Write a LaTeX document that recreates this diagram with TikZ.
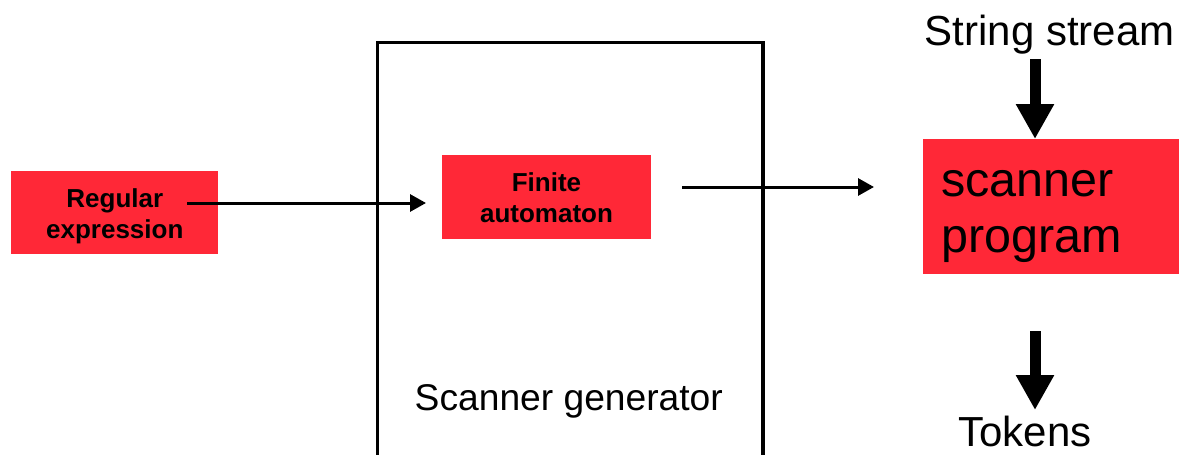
\documentclass[tikz,border=0pt]{standalone}
\usepackage{fontspec}
\setmainfont{Liberation Sans}
\usetikzlibrary{arrows.meta}
\definecolor{boxred}{RGB}{255,40,55}
\tikzset{
  redbox/.style={fill=boxred, draw=none, inner sep=0pt},
  boldtxt/.style={inner sep=0pt, align=center, font=\fontsize{26}{31}\selectfont\bfseries},
  bigtxt/.style={inner sep=0pt, align=left, font=\fontsize{48.5}{56.3}\selectfont},
  lbltxt/.style={inner sep=0pt},
  thinarrow/.style={line width=3pt, -{Triangle[length=16pt,width=17pt]}},
  thickarrow/.style={line width=11pt, -{Triangle[length=35pt,width=36pt]}},
  genbox/.style={draw, line width=3.2pt, fill=none, inner sep=0pt}
}
\begin{document}
\begin{tikzpicture}[x=1pt,y=-1pt]
\useasboundingbox (0,0) rectangle (1179,455);
\clip (0,0) rectangle (1179,455);
% scanner generator box
\node[genbox, minimum width=385.5pt, minimum height=440pt] (gen) at (570.3,262.7) {};
\node[lbltxt, anchor=base, font=\fontsize{37.2}{44}\selectfont] (genlbl) at (568.8,410) {Scanner generator};
% red boxes
\node[redbox, minimum width=207pt, minimum height=83pt] (re) at (114.8,212.7) {};
\node[boldtxt] (retxt) at (114.8,216.5) {Regular\\expression};
\node[redbox, minimum width=209pt, minimum height=83.7pt] (fa) at (546.5,197) {};
\node[boldtxt] (fatxt) at (546.5,197.7) {Finite\\automaton};
\node[redbox, minimum width=256pt, minimum height=134.7pt] (sp) at (1051,206.3) {};
\node[bigtxt, anchor=west] (sptxt) at (941,216.5) {scanner\\program};
% labels
\node[lbltxt, anchor=base west, font=\fontsize{42}{48}\selectfont] (ss) at (924.5,45.7) {String stream};
\node[lbltxt, anchor=base, font=\fontsize{42}{48}\selectfont] (tok) at (1025,446.7) {Tokens};
% connector coordinates
\coordinate (reout) at (187,203);
\coordinate (fain) at (426,203);
\coordinate (faout) at (682,187);
\coordinate (spin) at (874,187);
\coordinate (ssout) at (1035,59);
\coordinate (sptop) at (1035,139);
\coordinate (spout) at (1035,331);
\coordinate (tokin) at (1035,410);
\draw[thinarrow] (reout) -- (fain);
\draw[thinarrow] (faout) -- (spin);
\draw[thickarrow] (ssout) -- (sptop);
\draw[thickarrow] (spout) -- (tokin);
\end{tikzpicture}
\end{document}
